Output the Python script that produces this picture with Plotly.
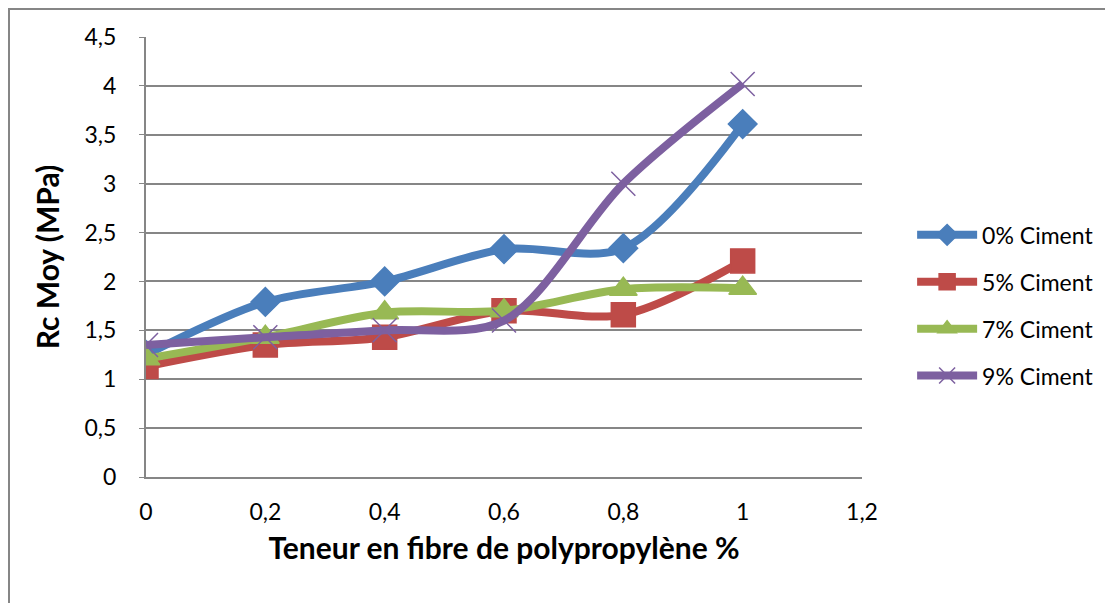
import plotly.graph_objects as go

# ---------------------------------------------------
# DATA
# ---------------------------------------------------

fibre = [0, 0.2, 0.4, 0.6, 0.8, 1.0]

ciment_0 = [1.25, 1.79, 2.0, 2.33, 2.34, 3.61]
ciment_5 = [1.13, 1.35, 1.43, 1.70, 1.66, 2.21]
ciment_7 = [1.21, 1.43, 1.68, 1.70, 1.92, 1.93]
ciment_9 = [1.35, 1.43, 1.50, 1.60, 3.0, 4.02]

series = [
    ('0% Ciment', ciment_0, '#4a7ebb', 'diamond', 22),
    ('5% Ciment', ciment_5, '#be4b48', 'square', 24),
    ('7% Ciment', ciment_7, '#98b954', 'triangle-up', 24),
    ('9% Ciment', ciment_9, '#7d60a0', 'x-thin-open', 24),
]

FONT = 'Lato'

fig = go.Figure()

for i, (name, vals, color, symbol, size) in enumerate(series):
    fig.add_trace(
        go.Scatter(
            x=fibre,
            y=vals,
            name=name,
            mode='lines+markers',
            line=dict(color=color, width=8, shape='spline', smoothing=0.9),
            marker=dict(
                symbol=symbol,
                size=size,
                color=color,
                line=dict(color=color, width=1.5)
            ),
            legendgroup=str(i)
        )
    )

# the page body adds an 8px offset, so margins are shifted to compensate
fig.update_layout(
    width=1113,
    height=603,
    margin=dict(l=138, r=259, t=29, b=134),
    paper_bgcolor='white',
    plot_bgcolor='white',
    separators=', ',
    font=dict(family=FONT, size=23, color='black'),
    legend=dict(
        x=1.07,
        y=0.39,
        yanchor='middle',
        xanchor='left',
        traceorder='grouped',
        tracegroupgap=14,
        font=dict(family=FONT, size=23, color='black'),
        itemwidth=60
    ),
    showlegend=True
)

fig.update_xaxes(
    range=[0, 1.2],
    tickvals=[0, 0.2, 0.4, 0.6, 0.8, 1, 1.2],
    showgrid=False,
    showline=True,
    linecolor='#868686',
    linewidth=2,
    zeroline=False,
    ticks='',
    ticklabelstandoff=13,
    title=dict(
        text='<b>Teneur en fibre de polypropylène %</b>',
        font=dict(family=FONT, size=30),
        standoff=14
    )
)

fig.update_yaxes(
    range=[0, 4.5],
    dtick=0.5,
    showgrid=True,
    gridcolor='#868686',
    gridwidth=1.5,
    showline=True,
    linecolor='#868686',
    linewidth=2,
    zeroline=False,
    ticks='outside',
    ticklen=5,
    tickcolor='#868686',
    ticklabelstandoff=18,
    title=dict(
        text='<b>Rc Moy (MPa)</b>',
        font=dict(family=FONT, size=30),
        standoff=16
    )
)

# outer chart frame (figure pixel 1 from the top-left edge)
fig.add_shape(
    type='rect',
    xref='paper', yref='paper',
    x0=(1 - 138) / 716, x1=(1130 - 138) / 716,
    y0=(469 - 620) / 440, y1=(469 - 1) / 440,
    line=dict(color='#868686', width=2),
    fillcolor='rgba(0,0,0,0)',
    layer='below'
)

fig.write_html('out.html')
